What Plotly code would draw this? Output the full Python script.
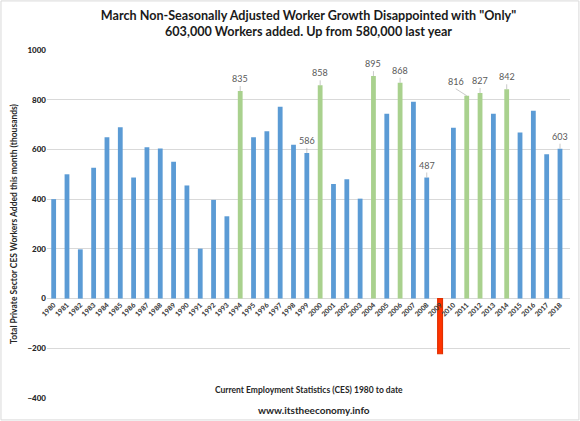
import plotly.graph_objects as go

# March non-seasonally adjusted private sector worker growth (thousands)
years = [str(y) for y in range(1980, 2019)]
added = [400, 500, 198, 526, 649, 689, 487, 609, 604, 550,
         455, 201, 397, 331, 835, 649, 673, 772, 619, 586,
         858, 461, 480, 402, 895, 744, 868, 792, 487, -222,
         687, 816, 827, 744, 842, 668, 756, 581, 603]

# years that get a green bar, and years with a value label
green_years = ['1994', '2000', '2004', '2006', '2011', '2012', '2014']
label_years = ['1994', '1999', '2000', '2004', '2006', '2008',
               '2011', '2012', '2014', '2018']

BLUE = '#5B9BD5'
GREEN = '#A9D18E'
RED = '#FF3300'

colors = []
for y, v in zip(years, added):
    if v < 0:
        colors.append(RED)
    elif y in green_years:
        colors.append(GREEN)
    else:
        colors.append(BLUE)
line_w = [1.2 if v < 0 else 0 for v in added]

fig = go.Figure(go.Bar(
    x=years, y=added,
    marker=dict(color=colors, line=dict(color='#E03000', width=line_w)),
    hoverinfo='x+y',
))

# value labels with short leader lines (x given as category index)
for i, (y, v) in enumerate(zip(years, added)):
    if y in label_years:
        ax, ay = (-11, -7) if y == '2011' else (0, -5)
        fig.add_annotation(
            x=i, y=v, text=str(v), showarrow=True, arrowhead=0,
            arrowwidth=0.6, arrowcolor='#A6A6A6', ax=ax, ay=ay,
            standoff=0, font=dict(size=9, color='#595959', family='Lato'),
            yanchor='bottom')

fig.add_annotation(
    x=0.5, y=0.003, xref='paper', yref='paper', yanchor='bottom',
    text='<b>Current Employment Statistics (CES) 1980 to date</b>',
    showarrow=False, font=dict(size=8.5, color='#262626', family='Lato'))
fig.add_annotation(
    x=0.51, y=-0.034, xref='paper', yref='paper', yanchor='middle',
    text='<b>www.itstheeconomy.info</b>',
    showarrow=False, font=dict(size=10, color='#262626', family='Lato'))

# light frame around the whole chart
fig.add_shape(type='rect', xref='paper', yref='paper',
              x0=-0.088, x1=1.017, y0=-0.063, y1=1.141,
              line=dict(color='#D9D9D9', width=1))

fig.update_layout(
    title=dict(
        text='<b>March Non-Seasonally Adjusted Worker Growth Disappointed with "Only"'
             '<br>603,000 Workers added. Up from 580,000 last year</b>',
        x=0.5, xref='paper', xanchor='center', y=0.953, yanchor='top',
        font=dict(size=12.6, color='#1a1a1a', family='Lato')),
    width=580, height=421,
    margin=dict(l=47, r=10, t=50, b=23),
    plot_bgcolor='white', paper_bgcolor='white',
    bargap=0.64, showlegend=False,
    font=dict(family='Lato'),
    xaxis=dict(
        type='category', tickangle=-45, anchor='free', position=400 / 1400,
        showgrid=False, showline=False, ticks='', automargin=False,
        tickfont=dict(size=7, color='#404040', family='Lato Black')),
    yaxis=dict(
        range=[-400, 1000], dtick=200, gridcolor='#D9D9D9', gridwidth=1,
        zeroline=True, zerolinecolor='#D9D9D9', zerolinewidth=1, automargin=False,
        tickfont=dict(size=8, color='#262626', family='Lato Black'),
        title=dict(text='<b>Total Private Sector CES Workers Added this month (thousands)</b>',
                   font=dict(size=8.5, color='#262626', family='Lato'), standoff=8)),
)

# drop the browser's default page margin so the chart sits at the corner
fig.write_html("out.html", config={'displayModeBar': False},
               post_script="document.body.style.margin='0';")
